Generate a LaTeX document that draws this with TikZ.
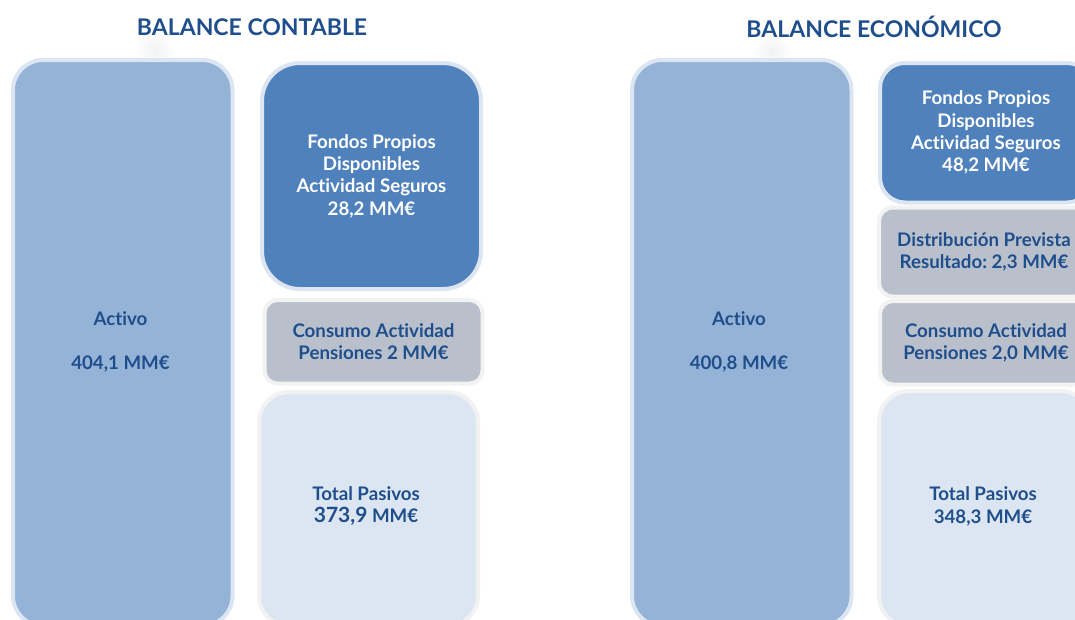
\documentclass[tikz,border=0pt]{standalone}
\usepackage{fontspec}
\setmainfont{Lato}[Ligatures=NoCommon]
\frenchspacing

\definecolor{textblue}{HTML}{1F4E8C}
\definecolor{activofill}{HTML}{95B3D7}
\definecolor{fondosfill}{HTML}{4F81BD}
\definecolor{consumofill}{HTML}{B9C0CB}
\definecolor{pasivosfill}{HTML}{DCE6F2}
\definecolor{ringblue}{HTML}{DCE6F2}
\definecolor{ringgray}{HTML}{F2F2F2}

\begin{document}
\begin{tikzpicture}[x=1pt,y=-1pt,
        font=\fontsize{18.7}{22.3}\selectfont\bfseries,
        box/.style={line width=4pt, inner sep=0pt, anchor=north west, align=center},
        activo/.style={box, fill=activofill, draw=ringblue, rounded corners=30pt},
        fondos/.style={box, fill=fondosfill, draw=ringblue, text=white},
        consumo/.style={box, fill=consumofill, draw=ringgray, text=textblue, rounded corners=13pt},
        pasivos/.style={box, fill=pasivosfill, draw=ringgray, rounded corners=30pt},
        label/.style={text=textblue, align=center},
        heading/.style={text=textblue, font=\fontsize{23}{26}\selectfont\bfseries}]
        \useasboundingbox (0,0) rectangle (1075,619);
        \clip (0,0) rectangle (1075,619);

        \shade[inner color=black!5, outer color=white] (155,50) circle (20);
        \shade[inner color=black!5, outer color=white] (772,52) circle (20);

        \node[heading] (titleC) at (252,27) {BALANCE CONTABLE};
        \node[heading] (titleE) at (874,27) {BALANCE ECONÓMICO};

        \node[activo, minimum width=219.5, minimum height=566] (activoC) at (11,58) {};
        \node[label] (activoCtxt) at (120.5,342) {Activo\\[22.3pt]404,1 MM€};
        \node[fondos, rounded corners=38pt, minimum width=219, minimum height=226] (fondosC) at (260,61)
            {Fondos Propios\\Disponibles\\Actividad Seguros\\28,2 MM€};
        \node[consumo, minimum width=218, minimum height=83.5] (consumoC) at (262.5,298)
            {Consumo Actividad\\Pensiones 2 MM€};
        \node[pasivos, minimum width=219, minimum height=234] (pasivosC) at (257,390) {};
        \node[label] (pasivosCtxt) at (366,506)
            {Total Pasivos\\{\fontsize{21}{22.3}\selectfont 373,9} MM€};

        \node[activo, minimum width=219.5, minimum height=566] (activoE) at (630,58) {};
        \node[label] (activoEtxt) at (739,342) {Activo\\[22.3pt]400,8 MM€};
        \node[fondos, rounded corners=25pt, minimum width=212, minimum height=139.5] (fondosE) at (878,61)
            {Fondos Propios\\Disponibles\\Actividad Seguros\\48,2 MM€};
        \node[consumo, rounded corners=14pt, minimum width=210, minimum height=89] (resultadoE) at (877,205.5)
            {Distribución Prevista\\Resultado: 2,3 MM€};
        \node[consumo, minimum width=212, minimum height=83.5] (consumoE) at (878,299)
            {Consumo Actividad\\Pensiones 2,0 MM€};
        \node[pasivos, minimum width=212, minimum height=235] (pasivosE) at (877,389) {};
        \node[label] (pasivosEtxt) at (983,506.5) {Total Pasivos\\348,3 MM€};
    \end{tikzpicture}
\end{document}
